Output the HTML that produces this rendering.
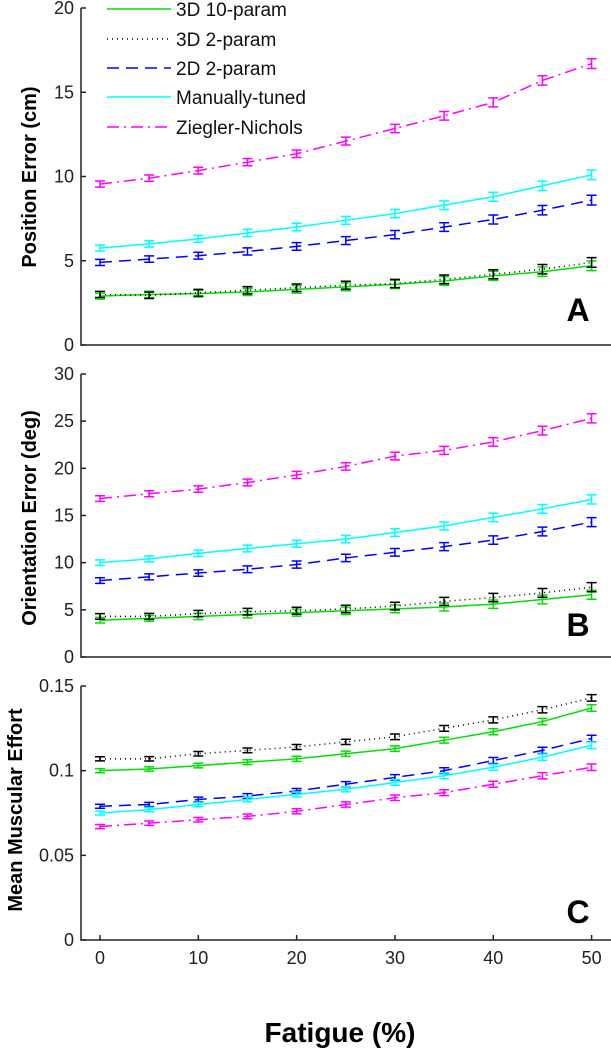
<!DOCTYPE html>
<html><head><meta charset="utf-8"><style>
html,body{margin:0;padding:0;background:#fff;}
svg{display:block;font-family:"Liberation Sans",Arial,sans-serif;}
</style></head><body>
<svg id="chart" width="611" height="1050" viewBox="0 0 611 1050" xmlns="http://www.w3.org/2000/svg"></svg>
<script>
const fatigue=[0,5,10,15,20,25,30,35,40,45,50];
const xTicks=[0,10,20,30,40,50];
const seriesNames=["3D 10-param","3D 2-param","2D 2-param","Manually-tuned","Ziegler-Nichols"];
const posGreen=[2.9,3.0,3.05,3.15,3.3,3.45,3.6,3.8,4.1,4.35,4.7];
const posBlack=[3.0,2.95,3.1,3.25,3.4,3.55,3.65,3.9,4.2,4.5,4.9];
const posBlue=[4.9,5.1,5.3,5.55,5.85,6.2,6.55,7.0,7.45,8.0,8.6];
const posCyan=[5.75,6.0,6.3,6.65,7.0,7.4,7.8,8.3,8.8,9.45,10.1];
const posMagenta=[9.55,9.9,10.35,10.85,11.35,12.1,12.85,13.6,14.4,15.7,16.7];
const oriGreen=[3.9,4.1,4.3,4.5,4.7,4.9,5.1,5.3,5.6,6.1,6.6];
const oriBlack=[4.3,4.3,4.6,4.8,4.9,5.1,5.4,5.9,6.3,6.8,7.4];
const oriBlue=[8.1,8.5,8.9,9.3,9.8,10.5,11.1,11.7,12.4,13.3,14.3];
const oriCyan=[10.0,10.4,11.0,11.5,12.0,12.5,13.2,13.9,14.8,15.7,16.7];
const oriMagenta=[16.8,17.3,17.8,18.5,19.3,20.2,21.3,21.9,22.8,24.0,25.3];
const effBlack=[.107,.107,.110,.112,.114,.117,.120,.125,.130,.136,.143];
const effGreen=[.100,.101,.103,.105,.107,.110,.113,.118,.123,.129,.137];
const effBlue=[.079,.080,.083,.085,.088,.092,.096,.100,.106,.112,.119];
const effCyan=[.075,.077,.080,.083,.086,.089,.093,.097,.102,.108,.115];
const effMagenta=[.067,.069,.071,.073,.076,.080,.084,.087,.092,.097,.102];
const posTicks=["0","5","10","15","20"];
const oriTicks=["0","5","10","15","20","25","30"];
const effTicks=["0","0.05","0.1","0.15"];
const NS="http://www.w3.org/2000/svg";
const svg=document.getElementById('chart');
function mk(t,a,p){const e=document.createElementNS(NS,t);for(const k in a)e.setAttribute(k,a[k]);(p||svg).appendChild(e);return e;}
const x=v=>100+(v/50)*491.6;
const styles=[{c:"#00e000",d:""},{c:"#000",d:"1,4"},{c:"#0000ff",d:"12,7"},{c:"#00ffff",d:""},{c:"#ff00ff",d:"12,5,2,5"}];
function panel(name,y0,y1,vmax,ticks,tickVals,series,err,title,titleY,titleX,letter,letterY){
  const g=mk('g',{});
  
  
  const y=v=>y0-(v/vmax)*(y0-y1);
  const ax=mk('path',{d:`M81 ${y1} V${y0} H611`,stroke:"#222","stroke-width":1.5,fill:"none"},g);
  
  
  ticks.forEach((t,i)=>{const v=tickVals[i];
    mk('line',{x1:81,x2:86,y1:y(v),y2:y(v),stroke:"#222","stroke-width":1.5},g);
    const tx=mk('text',{x:74,y:y(v)+6,"text-anchor":"end","font-size":18,fill:"#222"},g);
    tx.textContent=t;
    
    
  });
  series.forEach((s,si)=>{
    const st=styles[si];
    const pl=mk('polyline',{points:s.map((v,i)=>x(fatigue[i])+","+y(v)).join(" "),fill:"none",stroke:st.c,"stroke-width":1.5,"stroke-dasharray":st.d},g);
    
    
    s.forEach((v,i)=>{const px=x(fatigue[i]),e=err*(1+i*0.06);
      const eb=mk('path',{d:`M${px-5} ${y(v-e)} H${px+5} M${px-5} ${y(v+e)} H${px+5} M${px} ${y(v-e)} V${y(v+e)}`,stroke:st.c,"stroke-width":1.5,fill:"none"},g);
      
      
    });
  });
  const tt=mk('text',{x:titleX,y:titleY,"text-anchor":"middle","font-size":20,"font-weight":"bold",fill:"#000",transform:`rotate(-90 ${titleX} ${titleY})`},g);
  tt.textContent=title;
  
  
  const lt=mk('text',{x:578,y:letterY+11,"text-anchor":"middle","font-size":32,"font-weight":"bold",fill:"#000"},g);
  lt.textContent=letter;
  
  
}
panel('panel-a-position',345,8,20,posTicks,[0,5,10,15,20],[posGreen,posBlack,posBlue,posCyan,posMagenta],0.18,"Position Error (cm)",177,36,"A",310);
panel('panel-b-orientation',657,374,30,oriTicks,[0,5,10,15,20,25,30],[oriGreen,oriBlack,oriBlue,oriCyan,oriMagenta],0.3,"Orientation Error (deg)",518,36,"B",625);
panel('panel-c-effort',940,686,0.15,effTicks,[0,0.05,0.1,0.15],[effGreen,effBlack,effBlue,effCyan,effMagenta],0.0012,"Mean Muscular Effort",810,22,"C",912);
xTicks.forEach(v=>{
  mk('line',{x1:x(v),x2:x(v),y1:940,y2:935,stroke:"#222","stroke-width":1.5});
  const t=mk('text',{x:x(v),y:964,"text-anchor":"middle","font-size":18,fill:"#222"});
  t.textContent=v;
  
  
});
const xt=mk('text',{x:340,y:1042,"text-anchor":"middle","font-size":28,"font-weight":"bold",fill:"#000"});
xt.textContent="Fatigue (%)";


const legY=[9,39,68,97,127];
seriesNames.forEach((n,i)=>{const st=styles[i];
  const l=mk('line',{x1:107,x2:171,y1:legY[i],y2:legY[i],stroke:st.c,"stroke-width":1.5,"stroke-dasharray":st.d});
  
  
  const t=mk('text',{x:176,y:legY[i]+7,"font-size":19,fill:"#111"});
  t.textContent=n;
  
  
});
</script>
</body></html>
